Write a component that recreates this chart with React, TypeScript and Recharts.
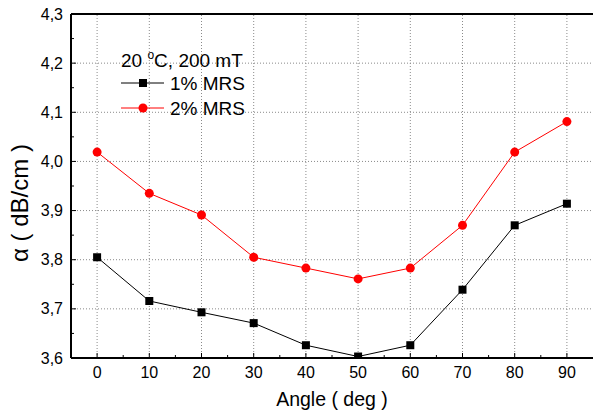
import React from 'react';
import { LineChart, Line, XAxis, YAxis, ReferenceLine } from 'recharts';

const angles = [0, 10, 20, 30, 40, 50, 60, 70, 80, 90];
const mrs1 = [3.805, 3.716, 3.693, 3.671, 3.626, 3.603, 3.626, 3.739, 3.870, 3.914];
const mrs2 = [4.019, 3.935, 3.891, 3.805, 3.783, 3.761, 3.783, 3.870, 4.019, 4.081];
const seriesNames = ['1% MRS', '2% MRS'];
const seriesColors = ['#000000', '#ff0000'];
const legendTitle = ['20 ', 'o', 'C, 200 mT'];

const xTicks = [0, 10, 20, 30, 40, 50, 60, 70, 80, 90];
const yTicks = [3.6, 3.7, 3.8, 3.9, 4.0, 4.1, 4.2, 4.3];
const xMinor = xTicks.slice(0, -1).map((t) => t + 5);
const yMinor = yTicks.slice(0, -1).map((t) => +(t + 0.05).toFixed(2));

const data = angles.map((a, i) => ({ angle: a, mrs1: mrs1[i], mrs2: mrs2[i] }));

const FONT = '"Liberation Sans", Arial, sans-serif';
const fmt = (v: number) => v.toFixed(1).replace('.', ',');

const YTick = (props: any) => {
  const { x, y, payload } = props;
  const axisX = x + 8;
  const major = yTicks.some((t) => Math.abs(t - payload.value) < 1e-6);
  return (
    <g>
      <line x1={axisX} x2={axisX + (major ? 5 : 3)} y1={y} y2={y} stroke="#000" strokeWidth={1} />
      {major && (
        <text x={x} y={y} dy={5.5} textAnchor="end" fontSize={16} fontFamily={FONT} fill="#000">
          {fmt(payload.value)}
        </text>
      )}
    </g>
  );
};

const XTick = (props: any) => {
  const { x, y, payload } = props;
  const axisY = y - 8;
  const major = xTicks.includes(payload.value);
  return (
    <g>
      <line x1={x} x2={x} y1={axisY} y2={axisY - (major ? 5 : 3)} stroke="#000" strokeWidth={1} />
      {major && (
        <text x={x} y={y} dy={12} textAnchor="middle" fontSize={16} fontFamily={FONT} fill="#000">
          {payload.value}
        </text>
      )}
    </g>
  );
};

const SquareDot = (props: any) => {
  const { cx, cy, index } = props;
  return <rect key={`sq-${index}`} x={cx - 4} y={cy - 4} width={8} height={8} fill="#000" />;
};

const LegendBox = () => (
  <svg width={160} height={80} style={{ position: 'absolute', left: 115, top: 42 }}>
    <text x={6} y={25} fontSize={19} fontFamily={FONT} fill="#000">
      {legendTitle[0]}
      <tspan fontSize={12} dy={-8}>{legendTitle[1]}</tspan>
      <tspan dy={8}>{legendTitle[2]}</tspan>
    </text>
    {seriesNames.map((name, i) => {
      const cy = 41 + i * 25;
      return (
        <g key={name}>
          <line x1={6} x2={49} y1={cy} y2={cy} stroke={seriesColors[i]} strokeWidth={1} />
          {i === 0 ? (
            <rect x={24} y={cy - 4} width={8} height={8} fill={seriesColors[i]} />
          ) : (
            <circle cx={28} cy={cy} r={4.5} fill={seriesColors[i]} />
          )}
          <text x={55} y={cy + 7} fontSize={19} fontFamily={FONT} fill="#000">
            {name}
          </text>
        </g>
      );
    })}
  </svg>
);

export default function App() {
  return (
    <div style={{ position: 'absolute', left: 0, top: 0, width: 593, height: 414, background: '#fff' }}>
      <LineChart width={593} height={414} data={data} margin={{ top: 14, right: 0, bottom: 0, left: 0 }}>
        {xTicks.map((t) => (
          <ReferenceLine key={`vx${t}`} x={t} stroke="#8a8a8a" strokeDasharray="1 2" />
        ))}
        {yTicks.slice(1, -1).map((t) => (
          <ReferenceLine key={`hy${t}`} y={t} stroke="#8a8a8a" strokeDasharray="1 2" />
        ))}
        <ReferenceLine y={4.3} stroke="#000" strokeWidth={2} />
        <XAxis
          dataKey="angle"
          type="number"
          domain={[-5, 95]}
          ticks={[...xTicks, ...xMinor].sort((a, b) => a - b)}
          interval={0}
          height={56}
          tickLine={false}
          axisLine={{ stroke: '#000', strokeWidth: 2 }}
          tick={<XTick />}
          label={{ value: 'Angle ( deg )', position: 'insideBottom', offset: 8, fontSize: 19.5, fontFamily: FONT, fill: '#000' }}
        />
        <YAxis
          type="number"
          domain={[3.6, 4.3]}
          ticks={[...yTicks, ...yMinor].sort((a, b) => a - b)}
          interval={0}
          width={71}
          tickLine={false}
          axisLine={{ stroke: '#000', strokeWidth: 2 }}
          tick={<YTick />}
          allowDataOverflow
          label={{ value: 'α ( dB/cm )', angle: -90, position: 'center', dx: -16, dy: 17, fontSize: 24, fontFamily: FONT, fill: '#000' }}
        />
        <Line
          dataKey="mrs1"
          name={seriesNames[0]}
          stroke={seriesColors[0]}
          strokeWidth={1}
          dot={<SquareDot />}
          isAnimationActive={false}
        />
        <Line
          dataKey="mrs2"
          name={seriesNames[1]}
          stroke={seriesColors[1]}
          strokeWidth={1}
          dot={{ r: 4.5, fill: seriesColors[1], stroke: seriesColors[1], strokeWidth: 0 }}
          isAnimationActive={false}
        />
      </LineChart>
      <LegendBox />
    </div>
  );
}
